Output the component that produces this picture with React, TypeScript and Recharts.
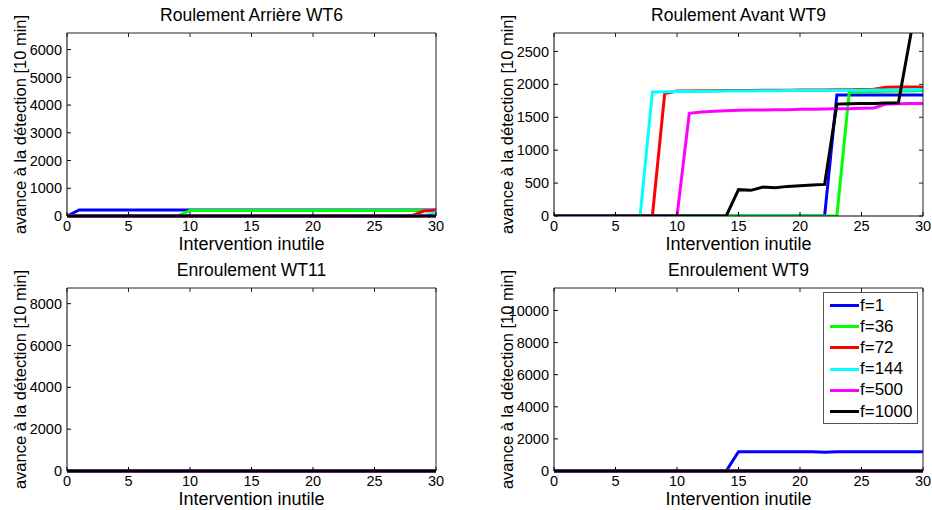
import React from "react";
import { LineChart, Line, XAxis, YAxis, Legend } from "recharts";

// x positions (Intervention inutile), shared by every panel
const xSteps = [0, 1, 2, 3, 4, 5, 6, 7, 8, 9, 10, 11, 12, 13, 14, 15, 16, 17, 18, 19, 20, 21, 22, 23, 24, 25, 26, 27, 28, 29, 30];
const xTicks = [0, 5, 10, 15, 20, 25, 30];

const seriesKeys = ["f1", "f36", "f72", "f144", "f500", "f1000"];
const seriesNames = ["f=1", "f=36", "f=72", "f=144", "f=500", "f=1000"];
const seriesColors = ["#0000ff", "#00ff00", "#ff0000", "#00ffff", "#ff00ff", "#000000"];

// Roulement Arrière WT6
const arriereWT6_f1 = [0, 220, 220, 220, 220, 220, 220, 220, 220, 220, 220, 220, 220, 220, 220, 220, 220, 220, 220, 220, 220, 220, 220, 220, 220, 220, 220, 220, 220, 220, 220];
const arriereWT6_f36 = [0, 0, 0, 0, 0, 0, 0, 0, 0, 0, 200, 200, 200, 200, 200, 200, 200, 200, 200, 200, 200, 200, 210, 200, 200, 200, 200, 200, 200, 200, 200];
const arriereWT6_f72 = [0, 0, 0, 0, 0, 0, 0, 0, 0, 0, 0, 0, 0, 0, 0, 0, 0, 0, 0, 0, 0, 0, 0, 0, 0, 0, 0, 0, 0, 180, 210];
const arriereWT6_f144 = [0, 0, 0, 0, 0, 0, 0, 0, 0, 0, 0, 0, 0, 0, 0, 0, 0, 0, 0, 0, 0, 0, 0, 0, 0, 0, 0, 0, 0, 0, 130];
const arriereWT6_f500 = [0, 0, 0, 0, 0, 0, 0, 0, 0, 0, 0, 0, 0, 0, 0, 0, 0, 0, 0, 0, 0, 0, 0, 0, 0, 0, 0, 0, 0, 0, 0];
const arriereWT6_f1000 = [0, 0, 0, 0, 0, 0, 0, 0, 0, 0, 0, 0, 0, 0, 0, 0, 0, 0, 0, 0, 0, 0, 0, 0, 0, 0, 0, 0, 0, 0, 0];

// Roulement Avant WT9
const avantWT9_f1 = [0, 0, 0, 0, 0, 0, 0, 0, 0, 0, 0, 0, 0, 0, 0, 0, 0, 0, 0, 0, 0, 0, 0, 1840, 1840, 1840, 1840, 1840, 1840, 1840, 1840];
const avantWT9_f36 = [0, 0, 0, 0, 0, 0, 0, 0, 0, 0, 0, 0, 0, 0, 0, 0, 0, 0, 0, 0, 0, 0, 0, 0, 1880, 1885, 1890, 1895, 1900, 1900, 1905];
const avantWT9_f72 = [0, 0, 0, 0, 0, 0, 0, 0, 0, 1860, 1898, 1900, 1902, 1904, 1906, 1907, 1908, 1910, 1910, 1912, 1914, 1915, 1916, 1918, 1918, 1920, 1925, 1955, 1958, 1960, 1960];
const avantWT9_f144 = [0, 0, 0, 0, 0, 0, 0, 0, 1885, 1888, 1890, 1892, 1895, 1897, 1898, 1900, 1900, 1902, 1904, 1905, 1906, 1908, 1908, 1910, 1910, 1912, 1914, 1915, 1916, 1918, 1920];
const avantWT9_f500 = [0, 0, 0, 0, 0, 0, 0, 0, 0, 0, 0, 1560, 1580, 1590, 1600, 1605, 1610, 1610, 1615, 1615, 1620, 1620, 1625, 1630, 1630, 1635, 1640, 1700, 1705, 1710, 1710];
const avantWT9_f1000 = [0, 0, 0, 0, 0, 0, 0, 0, 0, 0, 0, 0, 0, 0, 0, 400, 390, 440, 430, 450, 460, 470, 480, 1700, 1705, 1710, 1710, 1715, 1720, 2750, 3800];

// Enroulement WT11
const enroulWT11_f1 = [0, 0, 0, 0, 0, 0, 0, 0, 0, 0, 0, 0, 0, 0, 0, 0, 0, 0, 0, 0, 0, 0, 0, 0, 0, 0, 0, 0, 0, 0, 0];
const enroulWT11_f36 = [0, 0, 0, 0, 0, 0, 0, 0, 0, 0, 0, 0, 0, 0, 0, 0, 0, 0, 0, 0, 0, 0, 0, 0, 0, 0, 0, 0, 0, 0, 0];
const enroulWT11_f72 = [0, 0, 0, 0, 0, 0, 0, 0, 0, 0, 0, 0, 0, 0, 0, 0, 0, 0, 0, 0, 0, 0, 0, 0, 0, 0, 0, 0, 0, 0, 0];
const enroulWT11_f144 = [0, 0, 0, 0, 0, 0, 0, 0, 0, 0, 0, 0, 0, 0, 0, 0, 0, 0, 0, 0, 0, 0, 0, 0, 0, 0, 0, 0, 0, 0, 0];
const enroulWT11_f500 = [0, 0, 0, 0, 0, 0, 0, 0, 0, 0, 0, 0, 0, 0, 0, 0, 0, 0, 0, 0, 0, 0, 0, 0, 0, 0, 0, 0, 0, 0, 0];
const enroulWT11_f1000 = [0, 0, 0, 0, 0, 0, 0, 0, 0, 0, 0, 0, 0, 0, 0, 0, 0, 0, 0, 0, 0, 0, 0, 0, 0, 0, 0, 0, 0, 0, 0];

// Enroulement WT9
const enroulWT9_f1 = [0, 0, 0, 0, 0, 0, 0, 0, 0, 0, 0, 0, 0, 0, 0, 1200, 1200, 1200, 1200, 1200, 1200, 1200, 1170, 1200, 1200, 1200, 1200, 1200, 1200, 1200, 1200];
const enroulWT9_f36 = [0, 0, 0, 0, 0, 0, 0, 0, 0, 0, 0, 0, 0, 0, 0, 0, 0, 0, 0, 0, 0, 0, 0, 0, 0, 0, 0, 0, 0, 0, 0];
const enroulWT9_f72 = [0, 0, 0, 0, 0, 0, 0, 0, 0, 0, 0, 0, 0, 0, 0, 0, 0, 0, 0, 0, 0, 0, 0, 0, 0, 0, 0, 0, 0, 0, 0];
const enroulWT9_f144 = [0, 0, 0, 0, 0, 0, 0, 0, 0, 0, 0, 0, 0, 0, 0, 0, 0, 0, 0, 0, 0, 0, 0, 0, 0, 0, 0, 0, 0, 0, 0];
const enroulWT9_f500 = [0, 0, 0, 0, 0, 0, 0, 0, 0, 0, 0, 0, 0, 0, 0, 0, 0, 0, 0, 0, 0, 0, 0, 0, 0, 0, 0, 0, 0, 0, 0];
const enroulWT9_f1000 = [0, 0, 0, 0, 0, 0, 0, 0, 0, 0, 0, 0, 0, 0, 0, 0, 0, 0, 0, 0, 0, 0, 0, 0, 0, 0, 0, 0, 0, 0, 0];

const FONT = '"Liberation Sans", Arial, Helvetica, sans-serif';
const PLOT_W = 369;
const PLOT_H = 183;
const PAD_L = 67;
const PAD_T = 33;
const PAD_R = 8;
const PAD_B = 40;

// one row per x step, one column per series
const buildRows = (series: number[][]) =>
  xSteps.map((x, i) => {
    const row: Record<string, number> = { x };
    seriesKeys.forEach((key, k) => {
      row[key] = series[k][i];
    });
    return row;
  });

// matlab-style legend box, kept in plotting order
const LegendBox = (props: any) => {
  const payload = [...(props.payload || [])].sort(
    (a: any, b: any) => seriesNames.indexOf(a.value) - seriesNames.indexOf(b.value)
  );
  return (
    <div
      style={{
        width: 95,
        height: 132,
        boxSizing: "border-box",
        border: "1px solid #555",
        background: "#fff",
        paddingTop: 2,
        fontFamily: FONT,
        fontSize: 17,
        color: "#000",
      }}
    >
      {payload.map((entry: any) => (
        <div key={entry.value} style={{ display: "flex", alignItems: "center", height: 21.2 }}>
          <span style={{ display: "inline-block", marginLeft: 6, width: 29, height: 3, background: entry.color }} />
          <span style={{ marginLeft: 1 }}>{entry.value}</span>
        </div>
      ))}
    </div>
  );
};

interface PanelProps {
  title: string;
  rows: Record<string, number>[];
  yMax: number;
  yTicks: number[];
  plotLeft: number;
  plotTop: number;
  clip?: boolean;
  legendAt?: { left: number; top: number };
}

const Panel: React.FC<PanelProps> = ({ title, rows, yMax, yTicks, plotLeft, plotTop, clip, legendAt }) => {
  const width = PAD_L + PLOT_W + PAD_R;
  const height = PAD_T + PLOT_H + PAD_B;
  const left = plotLeft - PAD_L;
  const top = plotTop - PAD_T;
  const tickStyle = { fill: "#000", fontSize: 14.5 };

  return (
    <div style={{ position: "absolute", left, top, width, height }}>
      <div
        style={{
          position: "absolute",
          left: PAD_L,
          top: 0,
          width: PLOT_W,
          height: 30,
          lineHeight: "30px",
          textAlign: "center",
          fontSize: 17.5,
          color: "#000",
        }}
      >
        {title}
      </div>
      <LineChart width={width} height={height} data={rows} margin={{ top: PAD_T - 1, right: PAD_R - 1, bottom: 1, left: 0 }}>
        <XAxis
          xAxisId="b"
          dataKey="x"
          type="number"
          domain={[0, 30]}
          ticks={xTicks}
          interval={0}
          height={PAD_B - 1}
          tickSize={-4}
          tickMargin={9}
          stroke="#000"
          tick={tickStyle}
          label={{ value: "Intervention inutile", position: "insideBottom", offset: 5, fill: "#000", fontSize: 18 }}
        />
        <XAxis
          xAxisId="t"
          orientation="top"
          type="number"
          domain={[0, 30]}
          ticks={xTicks}
          interval={0}
          height={1}
          tickSize={-4}
          tickFormatter={() => ""}
          stroke="#222"
        />
        <YAxis
          yAxisId="l"
          type="number"
          domain={[0, yMax]}
          ticks={yTicks}
          interval={0}
          allowDataOverflow={!!clip}
          width={PAD_L}
          tickSize={-4}
          tickMargin={9}
          stroke="#000"
          tick={tickStyle}
          label={{
            value: "avance à la détection [10 min]",
            angle: -90,
            position: "insideLeft",
            offset: 20.5,
            fill: "#000",
            fontSize: 16.5,
            style: { textAnchor: "middle" },
          }}
        />
        <YAxis
          yAxisId="r"
          orientation="right"
          type="number"
          domain={[0, yMax]}
          ticks={yTicks}
          interval={0}
          allowDataOverflow={!!clip}
          width={1}
          tickSize={-4}
          tickFormatter={() => ""}
          stroke="#222"
        />
        {seriesKeys.map((key, k) => (
          <Line
            key={key}
            xAxisId="b"
            yAxisId="l"
            type="linear"
            dataKey={key}
            name={seriesNames[k]}
            stroke={seriesColors[k]}
            strokeWidth={3}
            dot={false}
            activeDot={false}
            isAnimationActive={false}
          />
        ))}
        {legendAt && (
          <Legend
            layout="vertical"
            align="center"
            verticalAlign="middle"
            content={LegendBox}
            wrapperStyle={{ left: legendAt.left - left, top: legendAt.top - top, width: "auto", height: "auto" }}
          />
        )}
      </LineChart>
    </div>
  );
};

export default function App() {
  return (
    <div
      style={{
        position: "absolute",
        left: 0,
        top: 0,
        width: 932,
        height: 510,
        background: "#fff",
        overflow: "hidden",
        fontFamily: FONT,
      }}
    >
      <Panel
        title="Roulement Arrière WT6"
        rows={buildRows([arriereWT6_f1, arriereWT6_f36, arriereWT6_f72, arriereWT6_f144, arriereWT6_f500, arriereWT6_f1000])}
        yMax={6600}
        yTicks={[0, 1000, 2000, 3000, 4000, 5000, 6000]}
        plotLeft={67}
        plotTop={33}
      />
      <Panel
        title="Roulement Avant WT9"
        rows={buildRows([avantWT9_f1, avantWT9_f36, avantWT9_f72, avantWT9_f144, avantWT9_f500, avantWT9_f1000])}
        yMax={2780}
        yTicks={[0, 500, 1000, 1500, 2000, 2500]}
        plotLeft={554}
        plotTop={33}
        clip
      />
      <Panel
        title="Enroulement WT11"
        rows={buildRows([enroulWT11_f1, enroulWT11_f36, enroulWT11_f72, enroulWT11_f144, enroulWT11_f500, enroulWT11_f1000])}
        yMax={8750}
        yTicks={[0, 2000, 4000, 6000, 8000]}
        plotLeft={67}
        plotTop={288}
      />
      <Panel
        title="Enroulement WT9"
        rows={buildRows([enroulWT9_f1, enroulWT9_f36, enroulWT9_f72, enroulWT9_f144, enroulWT9_f500, enroulWT9_f1000])}
        yMax={11400}
        yTicks={[0, 2000, 4000, 6000, 8000, 10000]}
        plotLeft={554}
        plotTop={288}
        legendAt={{ left: 823, top: 292 }}
      />
    </div>
  );
}
